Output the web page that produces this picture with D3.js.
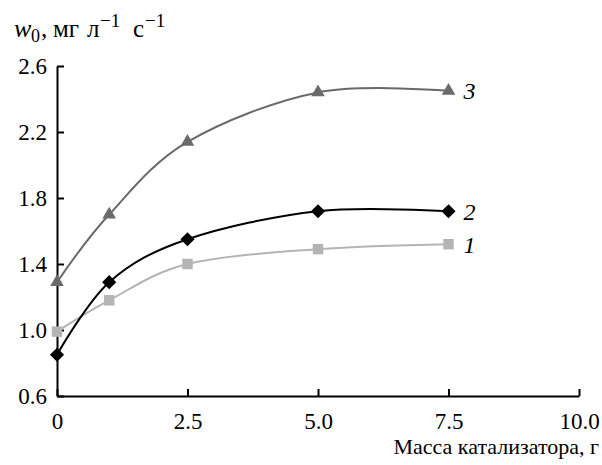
<!DOCTYPE html>
<html>
<head>
<meta charset="utf-8">
<script src="https://cdn.jsdelivr.net/npm/d3@7"></script>
<style>
  body { margin: 0; background: #fff; }
</style>
</head>
<body>
<div class="chart"></div>
<script>
// Data
var mass = [0, 1, 2.5, 5, 7.5];
var series1 = [0.99, 1.18, 1.40, 1.49, 1.52];
var series2 = [0.85, 1.29, 1.55, 1.72, 1.72];
var series3 = [1.29, 1.70, 2.14, 2.44, 2.45];
var seriesNames = ["1", "2", "3"];
var xTicks = [0, 2.5, 5, 7.5, 10];
var yTicks = [0.6, 1.0, 1.4, 1.8, 2.2, 2.6];

var serif = "'Liberation Serif', 'Times New Roman', 'DejaVu Serif', serif";

var svgWidth = 602;
var svgHeight = 465;
var margin = { top: 66, right: 23, bottom: 69, left: 57 };
var width = svgWidth - margin.left - margin.right;
var height = svgHeight - margin.top - margin.bottom;

var svg = d3.select(".chart")
  .append("svg")
  .attr("width", svgWidth)
  .attr("height", svgHeight)
  .attr("font-family", serif);

var chartGroup = svg.append("g")
  .attr("transform", `translate(${margin.left}, ${margin.top})`);

var xScale = d3.scaleLinear().domain([0, 10]).range([0, width]);
var yScale = d3.scaleLinear().domain([0.6, 2.6]).range([height, 0]);

// axes, ticks pointing inside
var bottomAxis = d3.axisBottom(xScale)
  .tickValues(xTicks)
  .tickFormat(d => d === 0 ? "0" : d3.format(".1f")(d))
  .tickSizeInner(-7).tickSizeOuter(0).tickPadding(17);
var leftAxis = d3.axisLeft(yScale)
  .tickValues(yTicks)
  .tickFormat(d3.format(".1f"))
  .tickSizeInner(-7).tickSizeOuter(0).tickPadding(10);

var gx = chartGroup.append("g")
  .attr("transform", `translate(0, ${height})`)
  .call(bottomAxis);
var gy = chartGroup.append("g").call(leftAxis);

[gx, gy].forEach(g => {
  g.attr("font-family", serif).attr("font-size", 23);
  g.selectAll("path, line").attr("stroke", "#000").attr("stroke-width", 2);
  g.selectAll("text").attr("fill", "#000");
});
gy.selectAll("text").attr("dy", "0.34em");

// y title: w0, мг л−1 с−1
var yTitle = svg.append("text")
  .attr("y", 37)
  .attr("font-size", 25)
  .attr("fill", "#000");
var titleParts = [
  { t: "w", x: 14, dy: 0, size: 26, italic: true },
  { t: "0", x: 31, dy: 5, size: 18 },
  { t: ",", x: 41, dy: -5, size: 25 },
  { t: "мг", x: 53, dy: 0, size: 25 },
  { t: "л", x: 87, dy: 0, size: 25 },
  { t: "−1", x: 100, dy: -10, size: 19 },
  { t: "с", x: 133, dy: 10, size: 25 },
  { t: "−1", x: 145, dy: -10, size: 19 }
];
titleParts.forEach(p => {
  yTitle.append("tspan")
    .attr("x", p.x)
    .attr("dy", p.dy)
    .attr("font-size", p.size)
    .attr("font-style", p.italic ? "italic" : null)
    .text(p.t);
});

svg.append("text")
  .attr("x", 599).attr("y", 454)
  .attr("text-anchor", "end")
  .attr("font-size", 22)
  .attr("fill", "#000")
  .text("Масса катализатора, г");

// series
var allSeries = [
  { name: seriesNames[0], values: series1, color: "#b4b4b4", symbol: d3.symbolSquare, size: 110, rot: 0 },
  { name: seriesNames[1], values: series2, color: "#000000", symbol: d3.symbolSquare, size: 100, rot: 45 },
  { name: seriesNames[2], values: series3, color: "#6a6a6a", symbol: d3.symbolTriangle, size: 80, rot: 0 }
];

var line = d3.line()
  .x(d => xScale(d[0]))
  .y(d => yScale(d[1]))
  .curve(d3.curveCardinal.tension(0));

allSeries.forEach(s => {
  var pts = mass.map((m, i) => [m, s.values[i]]);
  chartGroup.append("path")
    .datum(pts)
    .attr("d", line)
    .attr("fill", "none")
    .attr("stroke", s.color)
    .attr("stroke-width", 2);
  chartGroup.selectAll(null)
    .data(pts)
    .enter()
    .append("path")
    .attr("d", d3.symbol().type(s.symbol).size(s.size))
    .attr("transform", d => `translate(${xScale(d[0])}, ${yScale(d[1])}) rotate(${s.rot})`)
    .attr("fill", s.color);
  var last = pts[pts.length - 1];
  chartGroup.append("text")
    .attr("x", xScale(last[0]) + 15)
    .attr("y", yScale(last[1]))
    .attr("dy", "0.35em")
    .attr("font-size", 24)
    .attr("font-style", "italic")
    .attr("fill", "#000")
    .text(s.name);
});
</script>
</body>
</html>
